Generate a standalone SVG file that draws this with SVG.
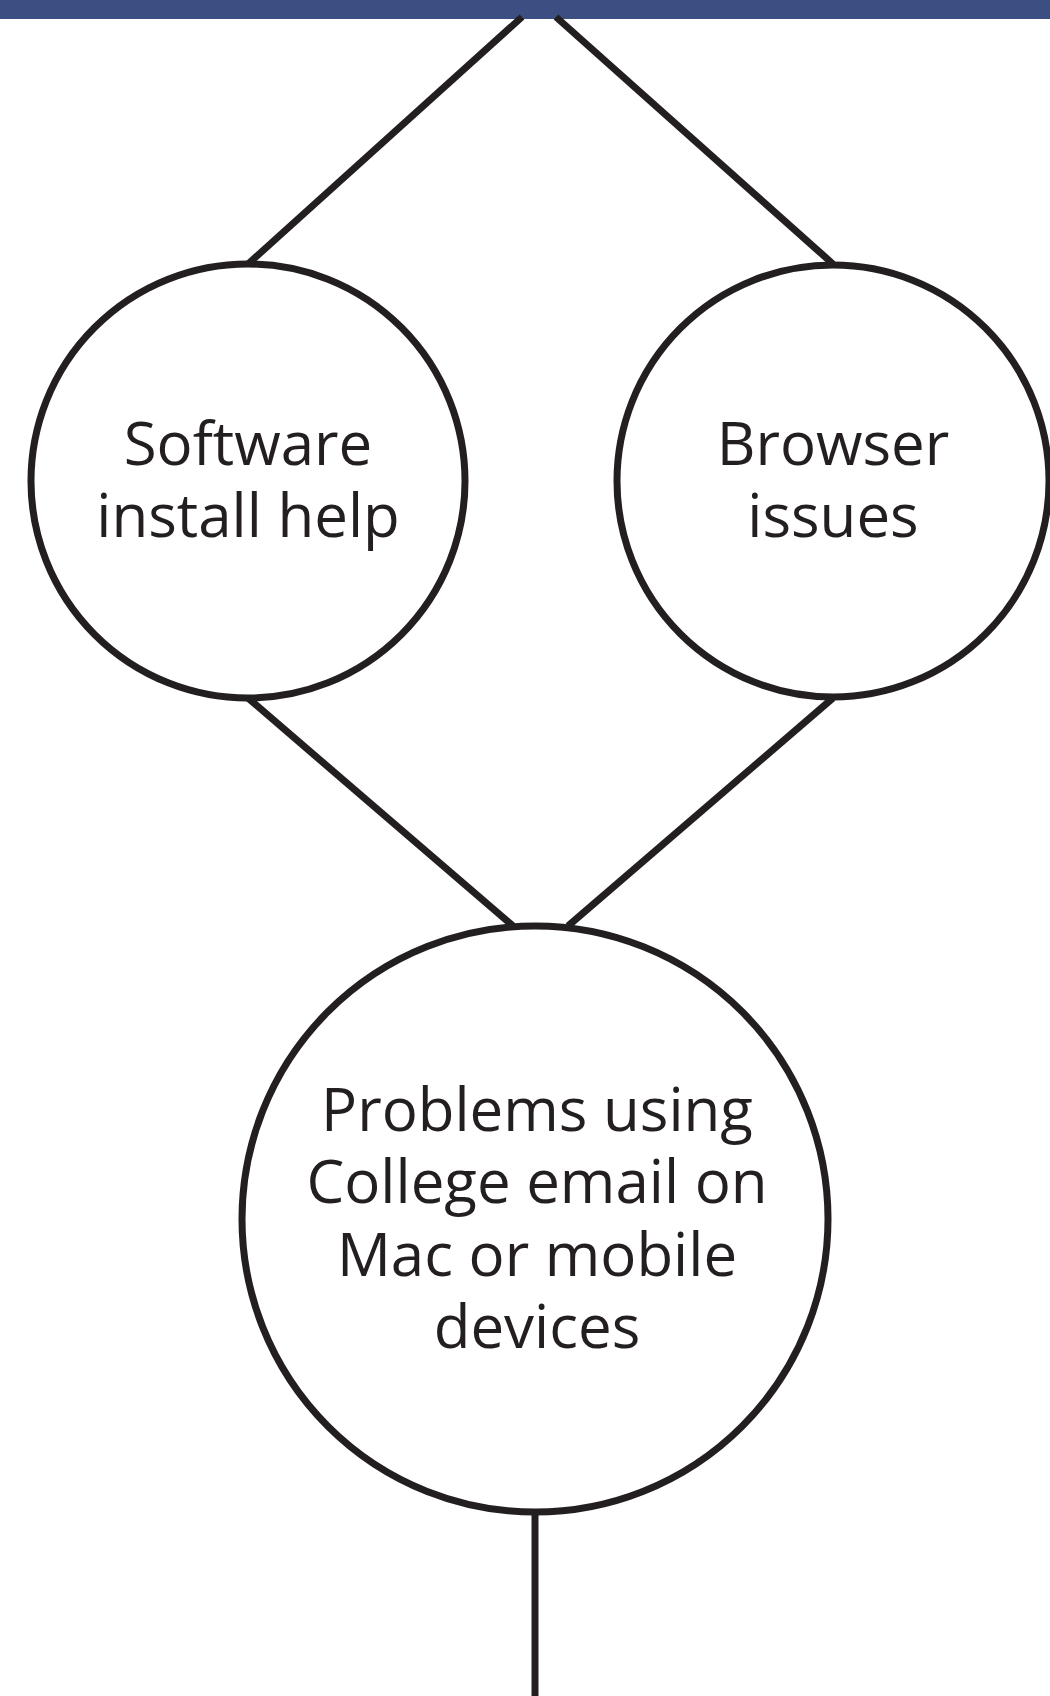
<svg xmlns="http://www.w3.org/2000/svg" width="1050" height="1696" viewBox="0 0 1050 1696">
<style>
.conn{stroke:#231f20;stroke-width:7;fill:none}
.node{fill:#ffffff;stroke:#231f20;stroke-width:7}
.lbl{font-family:"Open Sans","Liberation Sans",sans-serif;font-size:60px;fill:#231f20;text-anchor:middle}
</style>
<rect x="0" y="0" width="1050" height="19" fill="#3b4f82"/>
<g id="connectors">
<line class="conn" x1="522" y1="17" x2="248" y2="264"/>
<line class="conn" x1="556" y1="17" x2="833" y2="264"/>
<line class="conn" x1="248" y1="698" x2="513" y2="926"/>
<line class="conn" x1="833" y1="698" x2="568" y2="926"/>
<line class="conn" x1="535" y1="1512" x2="535" y2="1696"/>
</g>
<g id="node-software">
<circle class="node" cx="248" cy="481" r="217"/>
<text class="lbl" x="248" y="465">Software</text>
<text class="lbl" x="248" y="537">install help</text>
</g>
<g id="node-browser">
<circle class="node" cx="833" cy="481" r="216"/>
<text class="lbl" x="833" y="465">Browser</text>
<text class="lbl" x="833" y="537">issues</text>
</g>
<g id="node-problems">
<circle class="node" cx="535" cy="1219" r="293"/>
<text class="lbl" x="537" y="1131">Problems using</text>
<text class="lbl" x="537" y="1203">College email on</text>
<text class="lbl" x="537" y="1276">Mac or mobile</text>
<text class="lbl" x="537" y="1348">devices</text>
</g>
</svg>
